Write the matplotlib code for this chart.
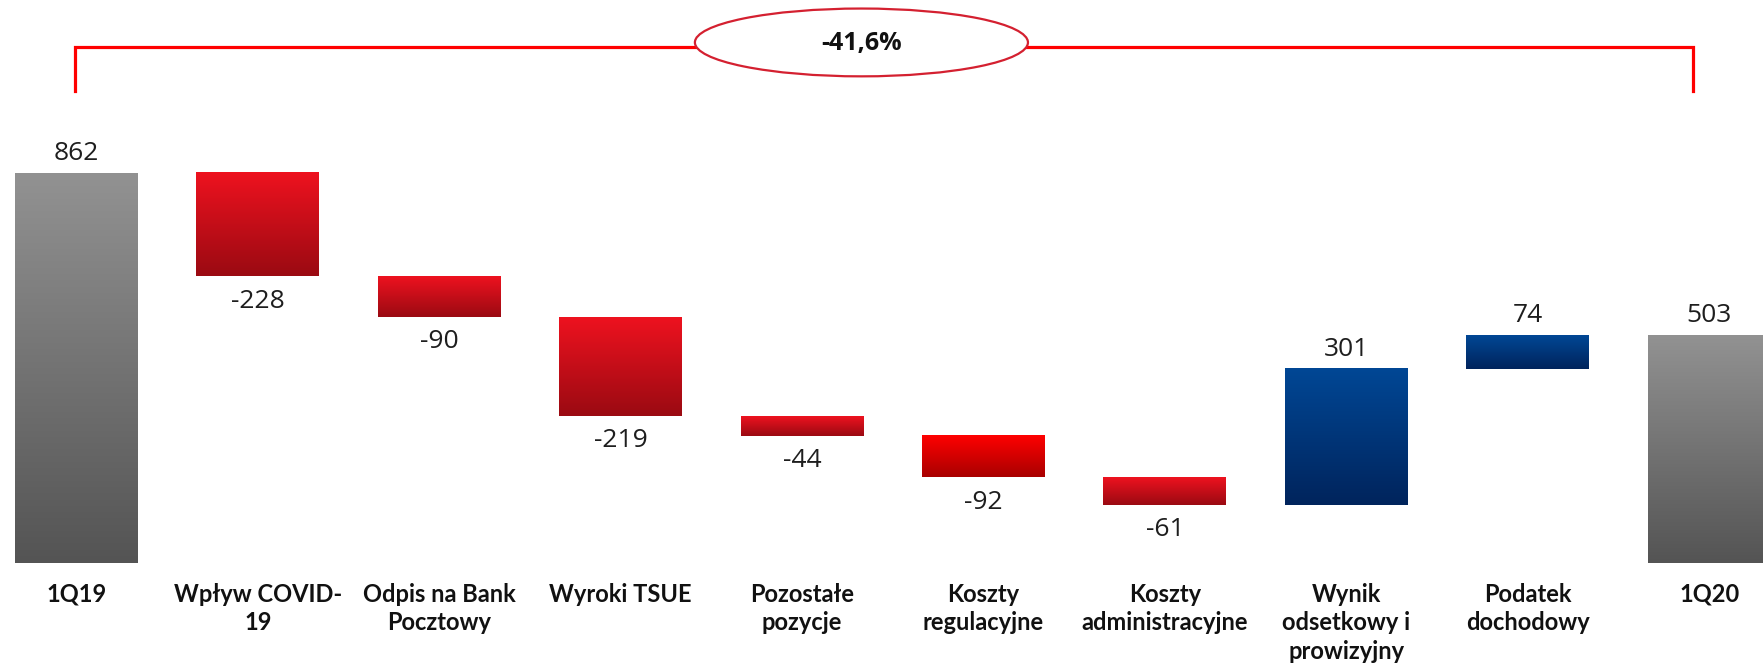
import matplotlib
matplotlib.use('Agg')
import matplotlib.pyplot as plt
from matplotlib.colors import LinearSegmentedColormap
from matplotlib.patches import Ellipse
import numpy as np

# data
categories = ['1Q19', 'Wpływ COVID-\n19', 'Odpis na Bank\nPocztowy', 'Wyroki TSUE',
              'Pozostałe\npozycje', 'Koszty\nregulacyjne', 'Koszty\nadministracyjne',
              'Wynik\nodsetkowy i\nprowizyjny', 'Podatek\ndochodowy', '1Q20']
values = [862, -228, -90, -219, -44, -92, -61, 301, 74, 503]
kinds = ['total', 'delta', 'delta', 'delta', 'delta', 'delta', 'delta', 'delta', 'delta', 'total']
change_label = '-41,6%'

# gradient colours (top, bottom)
grad = {
    'total': ('#929292', '#545454'),
    'neg': ('#EE121F', '#9A0A12'),
    'neg_bright': ('#FF0000', '#A80000'),
    'pos': ('#004795', '#00245C'),
}

fig = plt.figure(figsize=(17.63, 6.69), dpi=100)
ax = fig.add_axes([0, 0, 1, 1])
ax.set_xlim(-0.4217, 9.297)
ax.set_ylim(-235.2, 1244.9)
ax.axis('off')

# waterfall bottoms
bottoms, heights = [], []
running = 0
for v, k in zip(values, kinds):
    if k == 'total':
        bottoms.append(0)
        heights.append(v)
        running = v
    else:
        bottoms.append(running + v if v < 0 else running)
        heights.append(abs(v))
        running += v

x = np.arange(len(values))
bars = ax.bar(x, heights, bottom=bottoms, width=0.678, color='none', edgecolor='none')

for i, (b, v, k) in enumerate(zip(bars, values, kinds)):
    if k == 'total':
        c = grad['total']
    elif v < 0:
        c = grad['neg_bright'] if categories[i].startswith('Koszty\nreg') else grad['neg']
    else:
        c = grad['pos']
    cmap = LinearSegmentedColormap.from_list('g', [c[0], c[1]])
    x0, y0 = b.get_x(), b.get_y()
    g = np.linspace(0, 1, 256).reshape(-1, 1)
    # row 0 (top colour) sits at the top of the bar
    ax.imshow(g, cmap=cmap, aspect='auto', interpolation='bicubic', origin='upper',
              extent=(x0, x0 + b.get_width(), y0, y0 + b.get_height()), zorder=2)

    label = str(v)
    top = y0 + b.get_height()
    if v >= 0:
        ax.annotate(label, (i, top), xytext=(0, 14), textcoords='offset points',
                    ha='center', va='center', fontsize=19, family='Open Sans', color='#1e1e1e')
    else:
        ax.annotate(label, (i, y0), xytext=(0, -18), textcoords='offset points',
                    ha='center', va='center', fontsize=19, family='Open Sans', color='#1e1e1e')

    ax.text(i, -44, categories[i], ha='center', va='top', fontsize=17,
            family='Lato', fontweight='bold', linespacing=1.3, color='#111111')

# bracket with change percentage
bx0, bx1 = -0.01, 8.91
by_top, by_bot = 1141, 1043
ax.plot([bx0, bx0, bx1, bx1], [by_bot, by_top, by_top, by_bot], color='#FF0000',
        lw=2.3, solid_joinstyle='miter', zorder=3)
ax.add_patch(Ellipse((4.327, 1151), 1.836, 150, facecolor='white', edgecolor='#D42030',
                     lw=1.6, zorder=4))
ax.text(4.327, 1149, change_label, ha='center', va='center', fontsize=18,
        family='Open Sans', fontweight='bold', color='#111111', zorder=5)

fig.savefig('out.png', dpi=100, facecolor='white')
